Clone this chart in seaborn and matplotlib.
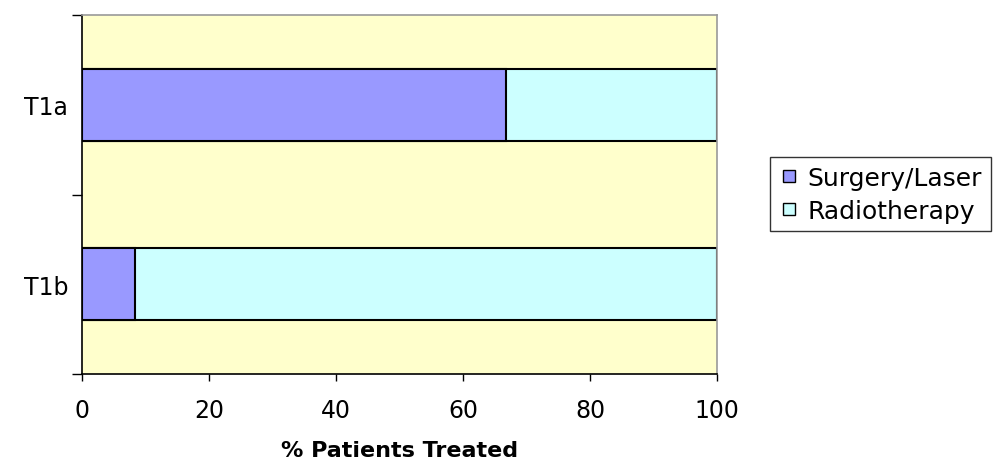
import numpy as np
import pandas as pd
import seaborn as sns
import matplotlib.pyplot as plt
from matplotlib.ticker import FixedLocator
from matplotlib.lines import Line2D

# data (% of patients)
stages = ['T1a', 'T1b']
surgery = [66.7, 8.3]
radiotherapy = [33.3, 91.7]

sns.set_style('white')
plt.rcParams['font.family'] = ['DejaVu Sans']
plt.rcParams.update({'text.color': 'black', 'axes.labelcolor': 'black',
                     'xtick.color': 'black', 'ytick.color': 'black'})

df = pd.DataFrame({'stage': stages, 'surgery': surgery,
                   'radio': radiotherapy})
df['total'] = df['surgery'] + df['radio']

fig = plt.figure(figsize=(9.98, 4.6), dpi=100)
ax = fig.add_axes([0.0822, 0.1848, 0.6362, 0.7804])
ax.set_facecolor('#FFFFCC')

# stacked bars: full bar in cyan, then surgery share on top
sns.barplot(data=df, x='total', y='stage', orient='h', color='#CCFFFF',
            width=0.4, edgecolor='black', linewidth=1.5, saturation=1, ax=ax)
sns.barplot(data=df, x='surgery', y='stage', orient='h', color='#9999FF',
            width=0.4, edgecolor='black', linewidth=1.5, saturation=1, ax=ax)

ax.set_xlim(0, 100)
ax.set_ylim(1.5, -0.5)
ax.set_xticks([0, 20, 40, 60, 80, 100])
ax.tick_params(axis='x', which='major', length=5, width=1, direction='out',
               bottom=True, labelsize=17, pad=12)
ax.tick_params(axis='y', which='major', length=0, labelsize=17, pad=10)
ax.yaxis.set_minor_locator(FixedLocator([-0.5, 0.5, 1.5]))
ax.tick_params(axis='y', which='minor', length=7, width=1, left=True)
ax.set_ylabel('')
ax.set_xlabel('% Patients Treated', fontsize=16, fontweight='bold',
              labelpad=13)

for side in ['left', 'bottom']:
    ax.spines[side].set_color('black')
    ax.spines[side].set_linewidth(1.2)
for side in ['top', 'right']:
    ax.spines[side].set_visible(True)
    ax.spines[side].set_color('#999999')
    ax.spines[side].set_linewidth(1.2)

handles = [Line2D([], [], marker='s', linestyle='none', markersize=9,
                  markerfacecolor=c, markeredgecolor='black', markeredgewidth=1)
           for c in ['#9999FF', '#CCFFFF']]
leg = fig.legend(handles, ['Surgery/Laser', 'Radiotherapy'],
                 loc='upper left', bbox_to_anchor=(0.7715, 0.6565),
                 fontsize=18, frameon=True, fancybox=False,
                 handletextpad=0.35, handlelength=0.8, borderpad=0.35,
                 labelspacing=0.35, borderaxespad=0)
leg.get_frame().set_edgecolor('black')
leg.get_frame().set_linewidth(1)

fig.savefig('out.png', dpi=100)
